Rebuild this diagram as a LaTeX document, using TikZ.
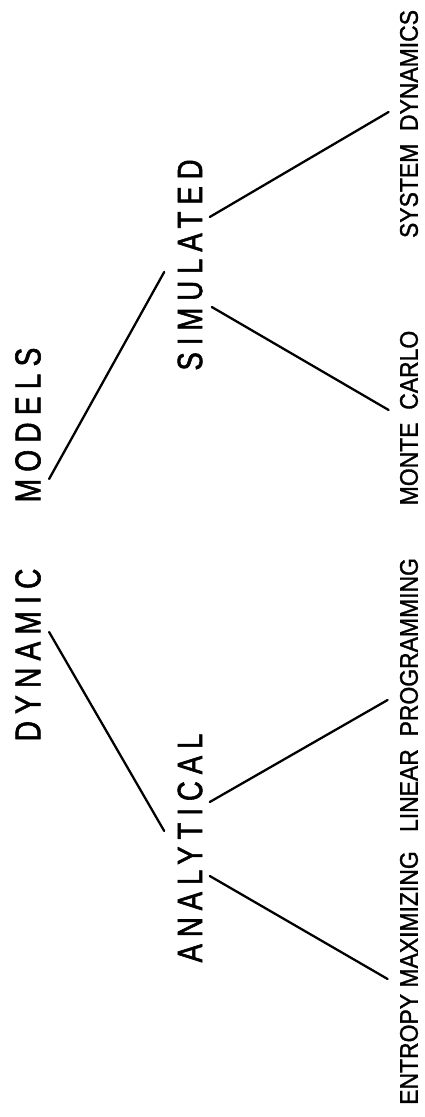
\documentclass[tikz,border=0pt]{standalone}
\usepackage{fontspec}
\setmainfont{Liberation Sans}
\newfontfamily\spacedfont[LetterSpace=20, FakeStretch=0.78, FakeBold=1.6]{Liberation Sans}
\newfontfamily\narrowfont[FakeStretch=0.9, FakeBold=1.2]{Liberation Sans}
\usetikzlibrary{calc}

\begin{document}
\begin{tikzpicture}[
    x=0.02cm, y=0.02cm,
    rotate=90, transform shape,
    word/.style={inner sep=0pt, text=black, font=\spacedfont\fontsize{20.5}{24}\selectfont},
    kind/.style={inner sep=0pt, text=black, font=\spacedfont\fontsize{20}{24}\selectfont},
    leaf/.style={inner sep=0pt, text=black, font=\narrowfont\fontsize{14.5}{17}\selectfont},
    branch/.style={line width=1.3pt, black, line cap=round}
]
\useasboundingbox (0,0) rectangle (1117,424);

% Root
\node[word] (dyn) at (462,396) {DYNAMIC};
\node[word] (mod) at (692,396) {MODELS};

% Kinds of model
\node[kind] (ana) at (269,234) {ANALYTICAL};
\node[kind] (sim) at (852,234) {SIMULATED};

% Methods
\node[leaf] (ent) at (139,15) {ENTROPY MAXIMIZING};
\node[leaf] (lin) at (422,15) {LINEAR\ \ PROGRAMMING};
\node[leaf] (mon) at (699,15) {MONTE\ \ CARLO};
\node[leaf] (sys) at (993,15) {SYSTEM\ \ DYNAMICS};

% Branches
\draw[branch] ($(dyn.south)+(23,-8)$) -- ($(ana.north)+(17,13)$);
\draw[branch] ($(mod.south)+(-54,-8)$) -- ($(sim.north)+(-7,13)$);
\draw[branch] ($(ana.south)+(-28,-7)$) -- ($(ent.north)+(-1,12)$);
\draw[branch] ($(ana.south)+(46,-7)$) -- ($(lin.north)+(-5,12)$);
\draw[branch] ($(sim.south)+(-42,-9)$) -- ($(mon.north)+(8,11)$);
\draw[branch] ($(sim.south)+(48,-7)$) -- ($(sys.north)+(12,11)$);

\end{tikzpicture}
\end{document}
